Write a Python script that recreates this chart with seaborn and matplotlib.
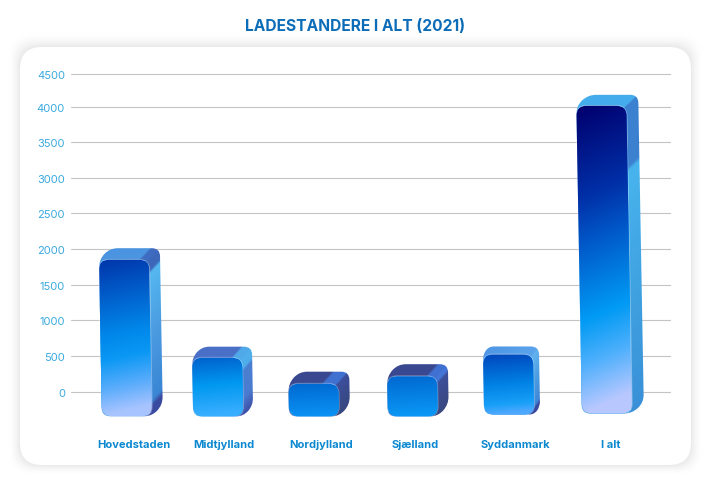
import numpy as np
import matplotlib
matplotlib.use("Agg")
from matplotlib import pyplot as plt
from matplotlib.colors import LinearSegmentedColormap
from matplotlib.patches import FancyBboxPatch, PathPatch
from matplotlib.path import Path
from matplotlib.transforms import IdentityTransform, ScaledTranslation
import seaborn as sns

# data
regions = ["Hovedstaden", "Midtjylland", "Nordjylland", "Sjælland", "Syddanmark", "I alt"]
values = [1850, 475, 110, 215, 520, 4010]
# the 3D blocks hang below the zero line
bar_bottoms = [-347, -350, -350, -350, -323, -309]
tick_values = [0, 500, 1000, 1500, 2000, 2500, 3000, 3500, 4000, 4463]
tick_labels = ["0", "500", "1000", "1500", "2000", "2500", "3000", "3500", "4000", "4500"]

# layout, in pixels
WIDTH, HEIGHT = 711, 481
bar_nudge = [3, -2, -2.5, 0, 0, 1.5]
label_nudge = [10, 3.8, 4.5, 2.2, 5.9, 5.6]
depth_x = [11, 10, 11, 11, 6, 12]
depth_y = [11.5, 11, 12, 12, 8, 11]
SHEAR = 0.018

# colour stops per bar
front_stops = [
    [(0, "#0036ac"), (0.5, "#0088ea"), (0.65, "#0a98f4"), (0.85, "#60aefc"), (1, "#a8c4ff")],
    [(0, "#0060cc"), (0.5, "#0098f0"), (1, "#38aeff")],
    [(0, "#0068d0"), (1, "#0a90f2")],
    [(0, "#0068d0"), (1, "#0a96f4")],
    [(0, "#0048bc"), (0.5, "#0080e4"), (0.85, "#18a0f8"), (1, "#50a8ff")],
    [(0, "#00006e"), (0.3, "#0030a8"), (0.45, "#0058c8"), (0.7, "#009af4"), (0.85, "#50b0fc"), (1, "#b8c8ff")],
]
top_stops = [
    [(0, "#4a94e0"), (0.8, "#4a94e0"), (0.82, "#3f6cc0"), (1, "#3f6cc0")],
    [(0, "#4a70c8"), (0.8, "#4a70c8"), (0.82, "#50a8e8"), (1, "#50a8e8")],
    [(0, "#3a4890"), (0.68, "#3a4890"), (0.72, "#4070d0"), (1, "#4070d0")],
    [(0, "#3a4890"), (0.78, "#3a4890"), (0.82, "#4070d0"), (1, "#4070d0")],
    [(0, "#4f96e4"), (1, "#5aa4ec")],
    [(0, "#45acec"), (1, "#45acec")],
]
side_stops = [
    [(0, "#3d68bb"), (0.07, "#3d68bb"), (0.09, "#55b8f0"), (0.5, "#4a9ae0"), (0.9, "#3a86d4"), (0.94, "#3a4aa0"), (1, "#3a4aa0")],
    [(0, "#50aeea"), (0.2, "#50aeea"), (0.24, "#4a80d0"), (0.7, "#4a7cd0"), (1, "#3f4fa8")],
    [(0, "#3c4f9c"), (1, "#38487f")],
    [(0, "#4476d8"), (0.12, "#4476d8"), (0.2, "#3c4f9a"), (1, "#38487f")],
    [(0, "#62b4f0"), (0.5, "#4a9ae0"), (0.85, "#3f88d8"), (0.92, "#3848a0"), (1, "#3848a0")],
    [(0, "#3c80d0"), (0.2, "#3c80d0"), (0.215, "#48b4ee"), (0.7, "#3e9ede"), (1, "#3a90d8")],
]


def rounded_path(points, radius):
    """Closed path through the points with rounded corners."""
    points = [np.array(p, dtype=float) for p in points]
    verts, codes = [], []
    for i, p in enumerate(points):
        before = points[i - 1] - p
        after = points[(i + 1) % len(points)] - p
        r = min(radius, np.linalg.norm(before) / 2, np.linalg.norm(after) / 2)
        start = p + r * before / np.linalg.norm(before)
        end = p + r * after / np.linalg.norm(after)
        verts += [start, p, end]
        codes += [Path.MOVETO if i == 0 else Path.LINETO, Path.CURVE3, Path.CURVE3]
    verts.append(verts[0])
    codes.append(Path.CLOSEPOLY)
    return Path(verts, codes)


def make_cmap(stops):
    return LinearSegmentedColormap.from_list("bar", stops, N=512)


def add_card(fig):
    # white card with a soft shadow
    style = "round,pad=0,rounding_size=22"
    for grow in range(12, 0, -1):
        level = 1 - 0.08 * ((13 - grow) / 12) ** 2
        fig.add_artist(FancyBboxPatch(
            (20 - grow, 15 - grow * 0.8), 671 + 2 * grow, 418 + 2 * grow,
            boxstyle=style, mutation_scale=1, facecolor=(level, level, level),
            edgecolor="none", transform=IdentityTransform(), zorder=-2))
    fig.add_artist(FancyBboxPatch(
        (20, 15), 671, 418, boxstyle=style, mutation_scale=1, facecolor="white",
        edgecolor="none", transform=IdentityTransform(), zorder=-1))


def draw_block(ax, bar, bottom, value, i):
    """Dress one seaborn bar up as a rounded 3D block."""
    bar.set_y(bottom)
    bar.set_height(value - bottom)
    (left, low), (right, high) = ax.transData.transform(
        [(bar.get_x(), bottom), (bar.get_x() + bar.get_width(), value)]
    )
    left += bar_nudge[i]
    right += bar_nudge[i]
    dx, dy = depth_x[i], depth_y[i]

    def lean(pts):
        return [(x - SHEAR * (y - low), y) for x, y in pts]

    front = lean([(left, low), (left, high), (right, high), (right, low)])
    outline = lean([
        (left, low), (left, high), (left + dx, high + dy),
        (right + dx, high + dy), (right + dx, low + dy), (right, low),
    ])
    front_path = rounded_path(front, 10)
    outline_path = rounded_path(outline, 8)

    # top and side faces share one image
    xs = np.arange(min(p[0] for p in outline) - 1, max(p[0] for p in outline) + 1, 0.5)
    ys = np.arange(low - 1, high + dy + 1, 0.5)
    gx, gy = np.meshgrid(xs, ys)
    ux = gx + SHEAR * (gy - low)
    slope = dy / dx
    is_top = (gy - high) >= (ux - right) * slope
    top_t = (ux - (gy - high) / slope - left) / (right - left)
    side_t = (high - (gy - (ux - right) * slope)) / (high - low)
    faces = np.where(
        is_top[..., None],
        make_cmap(top_stops[i])(np.clip(top_t, 0, 1)),
        make_cmap(side_stops[i])(np.clip(side_t, 0, 1)),
    )
    im = ax.imshow(faces, extent=(xs[0], xs[-1], ys[0], ys[-1]), origin="lower", aspect="auto",
                   interpolation="bilinear", transform=IdentityTransform(), zorder=3)
    im.set_clip_path(outline_path, transform=IdentityTransform())

    # pale rim round the front face
    ax.add_patch(PathPatch(front_path, facecolor="none", edgecolor="white", alpha=0.35, lw=1.2,
                           transform=IdentityTransform(), zorder=3.2))

    bar.set_clip_path(front_path, transform=IdentityTransform())
    bar.set_zorder(3.4)

    t = np.clip((high - gy) / (high - low) + 0.07 * (gx - left) / (right - left), 0, 1)
    im = ax.imshow(make_cmap(front_stops[i])(t), extent=(xs[0], xs[-1], ys[0], ys[-1]),
                   origin="lower", aspect="auto", interpolation="bilinear",
                   transform=IdentityTransform(), zorder=3.5)
    im.set_clip_path(front_path, transform=IdentityTransform())


def main():
    sns.set_style("white")
    plt.rcParams["font.family"] = ["Inter", "DejaVu Sans"]

    fig = plt.figure(figsize=(WIDTH / 100, HEIGHT / 100), dpi=100, facecolor="white")
    add_card(fig)

    # axes runs from x=71 to x=671, y=60 to y=430 in picture pixels
    ax = fig.add_axes([71 / WIDTH, 1 - 430 / HEIGHT, 600 / WIDTH, 370 / HEIGHT])
    ax.set_facecolor("none")

    sns.barplot(x=regions, y=values, color="#0090ee", width=0.52, saturation=1, ax=ax)

    xlim = (-0.549, 5.681)
    ylim = (-526, 4667)
    ax.set_xlim(xlim)
    ax.set_ylim(ylim)
    ax.set_autoscale_on(False)

    ax.set_yticks(tick_values)
    ax.set_yticklabels(tick_labels)
    ax.yaxis.grid(True, color="#c4c4c4", linewidth=0.8)
    ax.xaxis.grid(False)
    ax.set_axisbelow(True)
    sns.despine(ax=ax, left=True, bottom=True)
    ax.tick_params(axis="y", length=0, pad=4.3, labelsize=8, labelcolor="#3aa9e0")
    ax.tick_params(axis="x", length=0, pad=7.2, labelsize=8)
    for label, shift in zip(ax.get_xticklabels(), label_nudge):
        label.set_fontweight("bold")
        label.set_color("#0a88d0")
        label.set_transform(label.get_transform() + ScaledTranslation(shift / 100, 0, fig.dpi_scale_trans))

    for i, bar in enumerate(list(ax.patches)):
        draw_block(ax, bar, bar_bottoms[i], values[i], i)

    ax.set_xlim(xlim)
    ax.set_ylim(ylim)

    fig.text(355 / WIDTH, 1 - 26.5 / HEIGHT, "LADESTANDERE I ALT (2021)", ha="center", va="center",
             fontsize=11.2, fontweight="bold", color="#0b6cb8")

    plt.savefig("out.png", dpi=100)


if __name__ == "__main__":
    main()
